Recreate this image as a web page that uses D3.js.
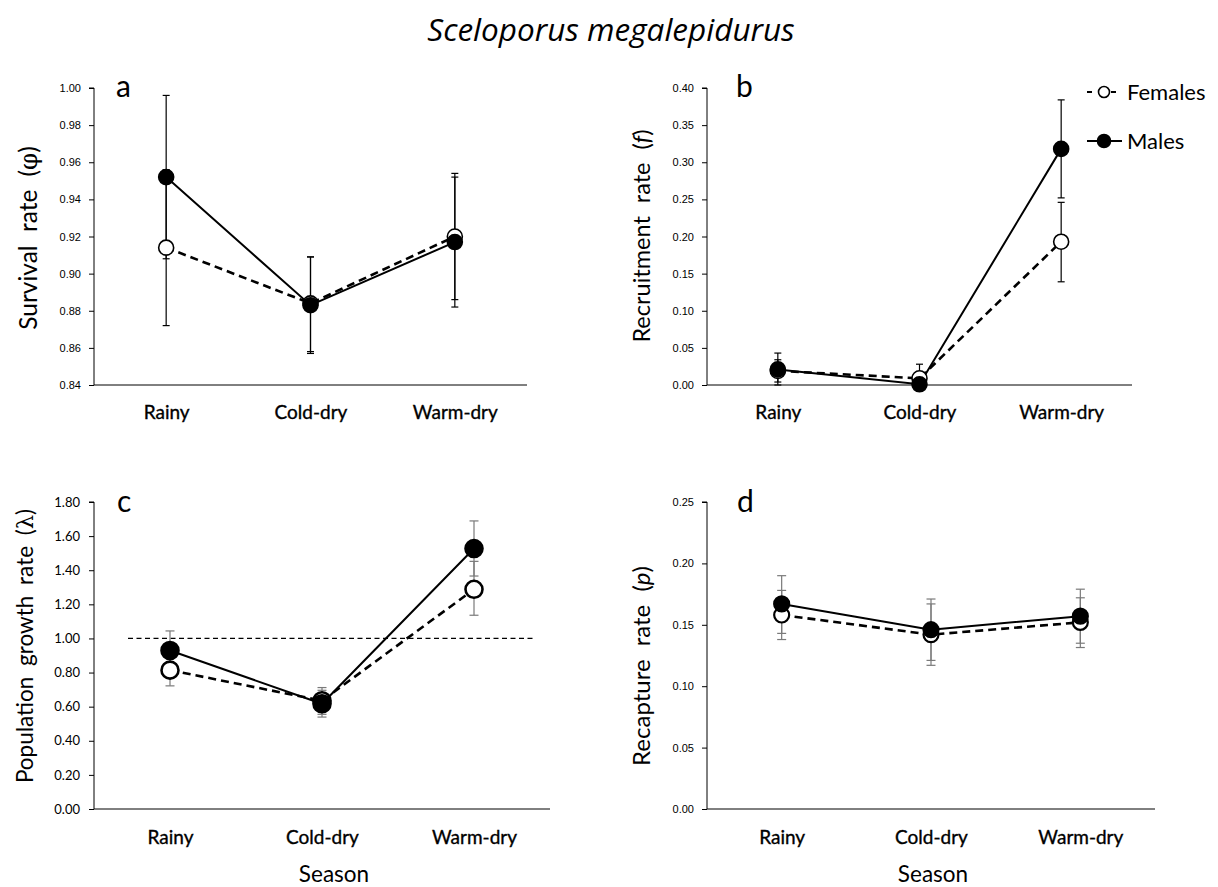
<!DOCTYPE html>
<html><head><meta charset="utf-8">
<script src="https://cdn.jsdelivr.net/npm/d3@7"></script>
<style>
html,body{margin:0;padding:0;background:#fff;}
svg{display:block;}
</style>
</head><body>
<svg id="chart" width="1218" height="887"></svg>
<script>
// ---------- data ----------
const seasons = ["Rainy", "Cold-dry", "Warm-dry"];

// a: survival rate (phi)
const survivalFemales   = [0.914, 0.884, 0.920];
const survivalFemalesLo = [0.872, 0.858, 0.886];
const survivalFemalesHi = [0.956, 0.909, 0.954];
const survivalMales     = [0.952, 0.883, 0.917];
const survivalMalesLo   = [0.908, 0.857, 0.882];
const survivalMalesHi   = [0.996, 0.909, 0.952];
const survivalTicks     = [0.84, 0.86, 0.88, 0.90, 0.92, 0.94, 0.96, 0.98, 1.00];

// b: recruitment rate (f)
const recruitFemales    = [0.019, 0.009, 0.193];
const recruitFemalesLo  = [0.004, 0.000, 0.139];
const recruitFemalesHi  = [0.034, 0.028, 0.246];
const recruitMales      = [0.021, 0.001, 0.318];
const recruitMalesLo    = [0.000, 0.000, 0.252];
const recruitMalesHi    = [0.043, 0.001, 0.384];
const recruitTicks      = [0.00, 0.05, 0.10, 0.15, 0.20, 0.25, 0.30, 0.35, 0.40];

// c: population growth rate (lambda)
const growthFemales     = [0.814, 0.635, 1.288];
const growthFemalesLo   = [0.722, 0.555, 1.136];
const growthFemalesHi   = [0.906, 0.712, 1.452];
const growthMales       = [0.929, 0.617, 1.527];
const growthMalesLo     = [0.815, 0.539, 1.366];
const growthMalesHi     = [1.044, 0.696, 1.689];
const growthTicks       = [0.00, 0.20, 0.40, 0.60, 0.80, 1.00, 1.20, 1.40, 1.60, 1.80];
const growthReference   = [1.00];

// d: recapture rate (p)
const recaptureFemales   = [0.158, 0.142, 0.152];
const recaptureFemalesLo = [0.138, 0.117, 0.1315];
const recaptureFemalesHi = [0.178, 0.167, 0.172];
const recaptureMales     = [0.167, 0.146, 0.157];
const recaptureMalesLo   = [0.143, 0.121, 0.135];
const recaptureMalesHi   = [0.190, 0.171, 0.179];
const recaptureTicks     = [0.00, 0.05, 0.10, 0.15, 0.20, 0.25];

const legendLabels = ["Females", "Males"];

// ---------- drawing ----------
const svg = d3.select("#chart");
const CAT_FONT = "Lato, 'Open Sans', sans-serif";

svg.append("text")
  .attr("x", 611).attr("y", 41)
  .attr("text-anchor", "middle")
  .style("font-family", "'Open Sans', sans-serif")
  .style("font-style", "italic")
  .style("font-size", "31.5px")
  .attr("fill", "#000")
  .text("Sceloporus megalepidurus");

function panel(cfg) {
  const g = svg.append("g");
  const x = d3.scalePoint().domain(seasons).range([cfg.x0, cfg.x1]).padding(0.5);
  const y = d3.scaleLinear().domain([cfg.ticks[0], cfg.ticks[cfg.ticks.length - 1]]).range([cfg.y1, cfg.y0]);

  // y axis
  const yAxis = d3.axisLeft(y).tickValues(cfg.ticks).tickSize(5).tickPadding(cfg.tickPad || 8)
    .tickFormat(d3.format(".2f"));
  const ya = g.append("g").attr("transform", `translate(${cfg.x0},0)`).call(yAxis);
  ya.select(".domain").attr("stroke", "#000").attr("stroke-width", 1).attr("d", `M-5,${cfg.y0}H0V${cfg.y1}`);
  ya.selectAll(".tick line").attr("stroke", "#000");
  ya.selectAll(".tick text")
    .style("font-family", cfg.tickFont)
    .style("font-size", cfg.tickSize + "px")
    .attr("fill", "#000");

  // x axis
  const xAxis = d3.axisBottom(x).tickSize(0).tickPadding(cfg.catPad);
  const xa = g.append("g").attr("transform", `translate(0,${cfg.y1})`).call(xAxis);
  xa.select(".domain").attr("stroke", "#000").attr("stroke-width", 1).attr("d", `M${cfg.x0},0H${cfg.x1}`);
  xa.selectAll(".tick text")
    .style("font-family", CAT_FONT)
    .style("font-size", "19px")
    .attr("fill", "#000")
    .attr("stroke", "#000").attr("stroke-width", 0.35);

  // reference line
  if (cfg.ref) {
    g.selectAll(".ref").data(cfg.ref).enter().append("line")
      .attr("x1", cfg.refX0).attr("x2", cfg.refX1)
      .attr("y1", d => y(d)).attr("y2", d => y(d))
      .attr("stroke", "#000").attr("stroke-width", 1.3)
      .attr("stroke-dasharray", "5,3.5");
  }

  const series = [
    { v: cfg.f, lo: cfg.fLo, hi: cfg.fHi, fill: "#fff", dash: "8,5", lw: 2.6 },
    { v: cfg.m, lo: cfg.mLo, hi: cfg.mHi, fill: "#000", dash: null, lw: 2 }
  ];

  // error bars
  series.forEach(s => {
    const eb = g.append("g");
    seasons.forEach((c, i) => {
      const cx = x(c);
      eb.append("line").attr("x1", cx).attr("x2", cx)
        .attr("y1", y(s.lo[i])).attr("y2", y(s.hi[i]))
        .attr("stroke", cfg.errColor).attr("stroke-width", 1.2);
      [s.lo[i], s.hi[i]].forEach(v => {
        eb.append("line").attr("x1", cx - cfg.cap).attr("x2", cx + cfg.cap)
          .attr("y1", y(v)).attr("y2", y(v))
          .attr("stroke", cfg.errColor).attr("stroke-width", 1.2);
      });
    });
  });

  // lines
  const line = d3.line().x((d, i) => x(seasons[i])).y(d => y(d));
  series.forEach(s => {
    g.append("path").datum(s.v).attr("d", line)
      .attr("fill", "none").attr("stroke", "#000").attr("stroke-width", s.lw)
      .attr("stroke-dasharray", s.dash);
  });

  // markers
  series.forEach(s => {
    g.selectAll(null).data(s.v).enter().append("circle")
      .attr("cx", (d, i) => x(seasons[i])).attr("cy", d => y(d))
      .attr("r", cfg.r)
      .attr("fill", s.fill).attr("stroke", "#000").attr("stroke-width", cfg.mw);
  });

  // panel letter
  g.append("text").attr("x", cfg.letterX).attr("y", cfg.letterY)
    .style("font-family", CAT_FONT).style("font-size", "30px")
    .attr("fill", "#000").text(cfg.letter);

  // y title
  const t = g.append("text")
    .attr("transform", `translate(${cfg.titleX},${cfg.titleY}) rotate(-90)`)
    .attr("text-anchor", "middle")
    .style("font-family", CAT_FONT).style("font-size", cfg.titleSize + "px")
    .style("word-spacing", cfg.wordSpacing + "px")
    .attr("fill", "#000");
  cfg.title.forEach(p => {
    t.append("tspan").style("font-style", p.it ? "italic" : "normal")
      .style("font-family", p.font || null).text(p.t);
  });

  if (cfg.xTitle) {
    g.append("text").attr("x", cfg.xTitleX).attr("y", 882)
      .attr("text-anchor", "middle")
      .style("font-family", CAT_FONT).style("font-size", "22.5px")
      .attr("fill", "#000").text(cfg.xTitle);
  }
}

panel({
  x0: 94, x1: 527, y0: 88, y1: 385, ticks: survivalTicks,
  f: survivalFemales, fLo: survivalFemalesLo, fHi: survivalFemalesHi,
  m: survivalMales, mLo: survivalMalesLo, mHi: survivalMalesHi,
  tickFont: "'Liberation Sans', Arial, sans-serif", tickSize: 11, catPad: 21,
  errColor: "#000", cap: 3.5, r: 7.5, mw: 1.6,
  letter: "a", letterX: 116, letterY: 97,
  title: [{ t: "Survival rate (" }, { t: "φ", font: "'DejaVu Serif', serif" }, { t: ")" }],
  titleX: 37, titleY: 238, titleSize: 24.5, wordSpacing: 7
});

panel({
  x0: 707, x1: 1132, y0: 88, y1: 385, ticks: recruitTicks,
  f: recruitFemales, fLo: recruitFemalesLo, fHi: recruitFemalesHi,
  m: recruitMales, mLo: recruitMalesLo, mHi: recruitMalesHi,
  tickFont: "'Liberation Sans', Arial, sans-serif", tickSize: 11, catPad: 21,
  errColor: "#000", cap: 3.5, r: 7.5, mw: 1.6,
  letter: "b", letterX: 736, letterY: 97,
  title: [{ t: "Recruitment rate (" }, { t: "f", it: true }, { t: ")" }],
  titleX: 650, titleY: 236, titleSize: 23.5, wordSpacing: 7
});

panel({
  x0: 94, x1: 550, y0: 502, y1: 809, ticks: growthTicks,
  f: growthFemales, fLo: growthFemalesLo, fHi: growthFemalesHi,
  m: growthMales, mLo: growthMalesLo, mHi: growthMalesHi,
  tickFont: CAT_FONT, tickSize: 13, catPad: 22, tickPad: 9,
  errColor: "#7a7a7a", cap: 4.5, r: 8.5, mw: 2.6,
  ref: growthReference, refX0: 128, refX1: 536,
  letter: "c", letterX: 117, letterY: 512,
  title: [{ t: "Population growth rate (" }, { t: "λ", font: "'DejaVu Serif', serif" }, { t: ")" }],
  titleX: 33, titleY: 646, titleSize: 22.5, wordSpacing: 5
  , xTitle: "Season", xTitleX: 334
});

panel({
  x0: 707, x1: 1155, y0: 502, y1: 809, ticks: recaptureTicks,
  f: recaptureFemales, fLo: recaptureFemalesLo, fHi: recaptureFemalesHi,
  m: recaptureMales, mLo: recaptureMalesLo, mHi: recaptureMalesHi,
  tickFont: "'Liberation Sans', Arial, sans-serif", tickSize: 11, catPad: 22,
  errColor: "#7a7a7a", cap: 4.5, r: 7.5, mw: 2.2,
  letter: "d", letterX: 737, letterY: 512,
  title: [{ t: "Recapture rate (" }, { t: "p", it: true }, { t: ")" }],
  titleX: 650, titleY: 666, titleSize: 24, wordSpacing: 7,
  xTitle: "Season", xTitleX: 933
});

// legend
const leg = svg.append("g");
const legRows = [
  { label: legendLabels[0], y: 92, fill: "#fff", dash: "5,7", r: 5.5 },
  { label: legendLabels[1], y: 141, fill: "#000", dash: null, r: 6.5 }
];
legRows.forEach(r => {
  leg.append("line").attr("x1", 1087).attr("x2", 1122).attr("y1", r.y).attr("y2", r.y)
    .attr("stroke", "#000").attr("stroke-width", 2).attr("stroke-dasharray", r.dash);
  leg.append("circle").attr("cx", 1104).attr("cy", r.y).attr("r", r.r)
    .attr("fill", r.fill).attr("stroke", "#000").attr("stroke-width", 1.6);
  leg.append("text").attr("x", 1127).attr("y", r.y + 7.5)
    .style("font-family", CAT_FONT).style("font-size", "22px")
    .attr("fill", "#000").text(r.label);
});
</script>
</body></html>
